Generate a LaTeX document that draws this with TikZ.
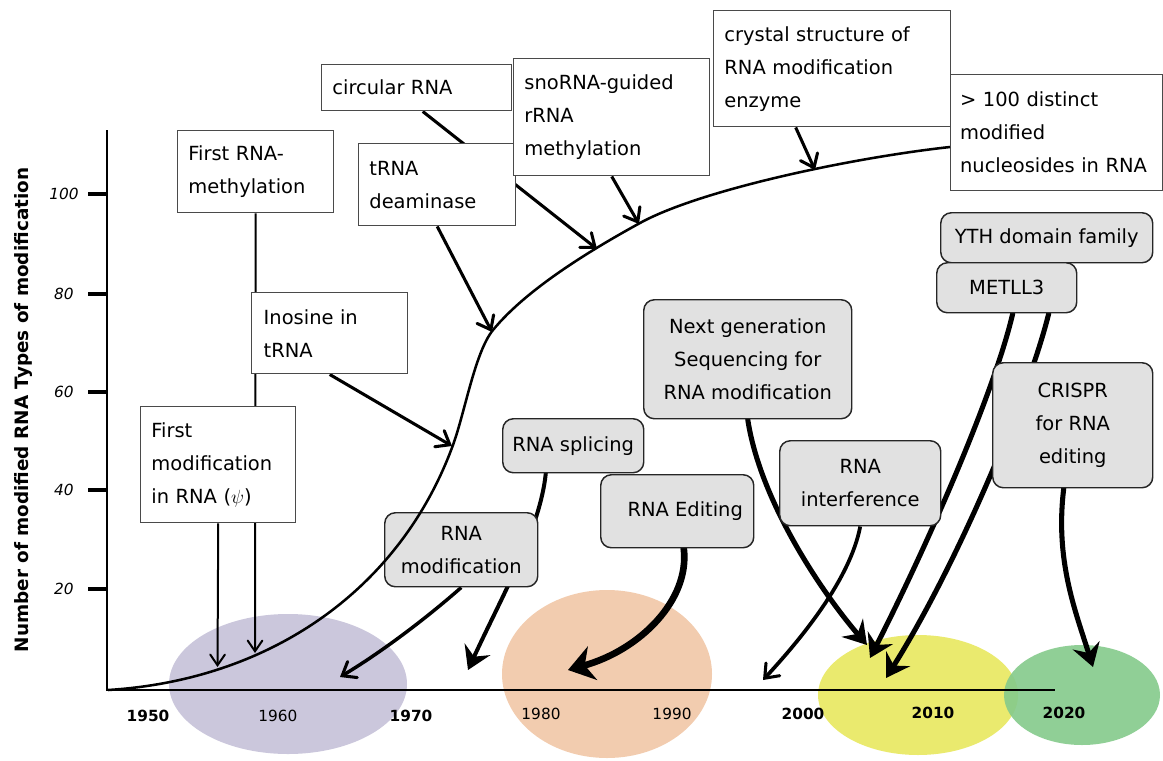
\documentclass[tikz,border=0pt]{standalone}
\usepackage{fontspec}
\setmainfont{DejaVu Sans}
\usetikzlibrary{arrows.meta}
\pgfdeclarelayer{ellipses}
\pgfdeclarelayer{links}
\pgfsetlayers{ellipses,links,main}
\definecolor{purp}{HTML}{CBC7DC}
\definecolor{orng}{HTML}{F2CCAF}
\definecolor{yell}{HTML}{EAEA6E}
\definecolor{grn}{HTML}{84CA8B}
\definecolor{boxgray}{HTML}{E1E1E1}
\definecolor{wborder}{HTML}{4A4A4A}
\begin{document}
\begin{tikzpicture}[x=0.75pt,y=-0.75pt,
  wbox/.style={draw=wborder, line width=1.1pt, fill=white, anchor=north west, align=left,
    inner xsep=8pt, inner ysep=0pt, font=\fontsize{14.6}{24.75}\selectfont},
  gbox/.style={draw=black!85, line width=1.1pt, fill=boxgray, rounded corners=8pt,
    anchor=north west, align=center, inner sep=0pt, font=\fontsize{14.6}{24.75}\selectfont},
  thinarrow/.style={line width=1.5pt, -{Straight Barb[length=8pt,width=11pt,line width=1.5pt,line cap=round]}},
  medarrow/.style={line width=2.3pt, -{Straight Barb[length=9pt,width=14pt,line width=2.3pt,line cap=round]}},
  thickarrow/.style={line width=3.8pt, line cap=round, -{Stealth[length=17pt,width=21pt,inset=6pt]}},
  axisline/.style={line width=2.2pt},
  tickline/.style={line width=3pt},
  ticklab/.style={font=\fontsize{11.5}{12}\selectfont\itshape},
  yearlab/.style={font=\fontsize{11.5}{12}\selectfont},
  yearbold/.style={font=\fontsize{11.5}{12}\selectfont\bfseries},
]
\useasboundingbox (0,0) rectangle (1163,760);

% ---- era ellipses
\begin{pgfonlayer}{ellipses}
\fill[purp] (288,684) ellipse [x radius=119, y radius=70];
\fill[orng] (607,674) ellipse [x radius=105, y radius=84];
\fill[yell] (918,695) ellipse [x radius=100, y radius=60];
\fill[grn, fill opacity=0.9] (1082,695) ellipse [x radius=78, y radius=50];
\end{pgfonlayer}

% ---- axes
\coordinate (O) at (107,690);
\coordinate (ytop) at (107,130);
\coordinate (xend) at (1055,690);
\draw[axisline] (ytop) -- (O) -- (xend);
\foreach \yy/\lab in {194/100, 294/80, 392/60, 490/40, 589/20}{
  \draw[tickline] (88,\yy) -- (107,\yy);
  \node[ticklab] at (64,\yy) {\lab};
}
\node[rotate=90, font=\fontsize{13.8}{14}\selectfont\bfseries] (ylab) at (23,410)
  {Number of modified RNA Types of modification};

\node[yearbold] (y1950) at (148,716) {1950};
\node[yearlab] (y1960) at (278,716) {1960};
\node[yearbold] (y1970) at (411,716) {1970};
\node[yearlab] (y1980) at (541,714) {1980};
\node[yearlab] (y1990) at (672,714) {1990};
\node[yearbold] (y2000) at (803,714) {2000};
\node[yearbold] (y2010) at (933,713) {2010};
\node[yearbold] (y2020) at (1064,713) {2020};

% ---- white boxes
\node[wbox, minimum width=117pt, minimum height=61.5pt, text width=101pt] (fmeth) at (177,130) {First RNA-\\methylation};
\node[wbox, minimum width=142.5pt, minimum height=34.5pt, text width=126.5pt] (circ) at (321,64) {circular RNA};
\node[wbox, minimum width=117.75pt, minimum height=61.5pt, text width=101.75pt] (tdeam) at (358,143) {tRNA\\deaminase};
\node[wbox, minimum width=147pt, minimum height=87.75pt, text width=131pt] (sno) at (513,58) {snoRNA-guided\\rRNA\\methylation};
\node[wbox, minimum width=177.75pt, minimum height=87pt, text width=161.75pt] (cryst) at (713,10) {crystal structure of\\RNA modification\\enzyme};
\node[wbox, minimum width=159pt, minimum height=87pt, text width=145pt, inner xsep=7pt] (hund) at (950,74) {> 100 distinct\\modified\\nucleosides in RNA};
\node[wbox, minimum width=117pt, minimum height=60.75pt, text width=99pt, inner xsep=9pt] (ino) at (251,292) {Inosine in\\tRNA};
\node[wbox, minimum width=116.25pt, minimum height=87pt, text width=100.25pt] (fmod) at (140,406) {First\\modification\\in RNA ($\psi$)};

% ---- grey rounded boxes
\node[gbox, minimum width=114.75pt, minimum height=55.5pt] (rmod) at (384,512) {RNA\\modification};
\node[gbox, minimum width=105.75pt, minimum height=40.5pt] (splic) at (502,418) {RNA splicing};
\node[gbox, minimum width=114.75pt, minimum height=54.75pt] (edit) at (600,474) {\hspace*{12pt}RNA Editing};
\node[gbox, minimum width=156pt, minimum height=89.25pt] (ngs) at (643,299) {Next generation\\Sequencing for\\RNA modification};
\node[gbox, minimum width=120.75pt, minimum height=63.75pt] (rnai) at (779,440) {RNA\\interference};
\node[gbox, minimum width=159pt, minimum height=37.5pt] (yth) at (940,212) {YTH domain family};
\node[gbox, minimum width=105pt, minimum height=37.5pt] (met) at (936,262) {METLL3};
\node[gbox, minimum width=120pt, minimum height=93.75pt] (crispr) at (992,362) {CRISPR\\for RNA\\editing};

% ---- growth curve
\coordinate (c0) at (108,690);
\coordinate (c1) at (453,445);
\coordinate (c2) at (493,330);
\coordinate (c3) at (640,223);
\coordinate (c4) at (950,147);
\draw[line width=1.9pt]
  (c0) .. controls (270,680) and (400,590) .. (c1)
       .. controls (465,412) and (475,352) .. (c2)
       .. controls (529,286) and (600,245) .. (c3)
       .. controls (700,190) and (850,158) .. (c4);

% ---- arrow targets
\coordinate (t1) at (255,653);
\coordinate (t2) at (217.5,667);
\coordinate (t3) at (452,446);
\coordinate (t4) at (492,332);
\coordinate (t5) at (597,249);
\coordinate (t6) at (639,224);
\coordinate (t7) at (815,170);
\coordinate (t8) at (340,677);
\coordinate (t9) at (468,670);
\coordinate (t10) at (568,670);
\coordinate (t11) at (867,645);
\coordinate (t12) at (763,680);
\coordinate (t13) at (870,658);
\coordinate (t14) at (886,678);
\coordinate (t15) at (1093,667);

% ---- connectors
\begin{pgfonlayer}{links}
\draw[thinarrow] (fmeth.south) -- (t1);
\draw[thinarrow] (fmod.south) -- (t2);
\draw[medarrow] (ino.south) -- (t3);
\draw[medarrow] (tdeam.south) -- (t4);
\draw[medarrow] ([xshift=4.5pt]circ.south) -- (t5);
\draw[medarrow] (sno.south) -- (t6);
\draw[medarrow] ([xshift=-27.4pt]cryst.south) -- (t7);
\draw[medarrow, line width=2.6pt] (rmod.south) .. controls (430,615) and (385,650) .. (t8);
\draw[thickarrow, line width=3pt] ([xshift=-20.6pt]splic.south) .. controls (540,530) and (500,600) .. (t9);
\draw[thickarrow, line width=5pt, -{Stealth[length=19pt,width=26pt,inset=6pt]}] ([xshift=4.9pt]edit.south) .. controls (690,600) and (640,650) .. (t10);
\draw[thickarrow] (ngs.south) .. controls (760,500) and (820,590) .. (t11);
\draw[medarrow, line width=2.8pt] (rnai.south) .. controls (850,580) and (800,640) .. (t12);
\draw[thickarrow] ([xshift=4.5pt]met.south) .. controls (995,390) and (930,540) .. (t13);
\draw[thickarrow] ([xshift=31.5pt]met.south) .. controls (1030,390) and (960,560) .. (t14);
\draw[thickarrow] ([xshift=-6.75pt]crispr.south) .. controls (1055,560) and (1075,610) .. (t15);
\end{pgfonlayer}
\end{tikzpicture}
\end{document}
